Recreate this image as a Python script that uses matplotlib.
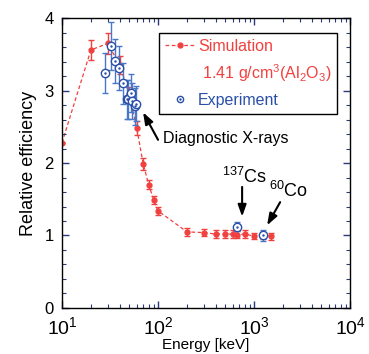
import numpy as np
import matplotlib
matplotlib.use('Agg')
import matplotlib.pyplot as plt
from matplotlib.lines import Line2D
from matplotlib.ticker import FixedLocator, FuncFormatter, MultipleLocator, LogLocator

plt.rcParams['font.family'] = ['Liberation Sans', 'DejaVu Sans']
plt.rcParams['mathtext.fontset'] = 'custom'
plt.rcParams['mathtext.rm'] = 'Liberation Sans'
plt.rcParams['mathtext.default'] = 'regular'

# simulation (1.41 g/cm3 Al2O3)
sim_e = [10, 20, 30, 40, 50, 60, 70, 80, 90, 100, 200, 300, 400, 500, 600, 662, 800, 1000, 1250, 1500]
sim_v = [2.28, 3.56, 3.65, 3.35, 2.95, 2.48, 1.99, 1.70, 1.49, 1.34, 1.05, 1.04, 1.02, 1.02, 1.02, 1.01, 1.02, 0.99, 1.00, 0.99]
sim_err = [0.0, 0.14, 0.14, 0.12, 0.1, 0.1, 0.08, 0.06, 0.06, 0.06, 0.06, 0.05, 0.05, 0.05, 0.05, 0.05, 0.05, 0.04, 0.05, 0.05]

# experiment
exp_e = [28, 32, 36, 39, 43, 47, 49, 52, 54, 57, 59, 662, 1250]
exp_v = [3.24, 3.62, 3.41, 3.31, 3.10, 2.88, 2.88, 2.97, 2.86, 2.78, 2.82, 1.12, 1.00]
exp_err = [0.28, 0.33, 0.3, 0.3, 0.28, 0.27, 0.27, 0.26, 0.25, 0.25, 0.24, 0.06, 0.07]

red = '#f0413f'
blue = '#2a4fa8'
tick_c = '#2b3a7a'

fig = plt.figure(figsize=(3.69, 3.54), dpi=100)
ax = fig.add_axes([0.168, 0.13, 0.781, 0.819])

ax.errorbar(sim_e, sim_v, yerr=sim_err, fmt='o', color=red, ms=3.5, ecolor=red,
            elinewidth=1.0, capsize=2.5, capthick=1.0, zorder=2)
ax.plot(sim_e, sim_v, '--', color=red, lw=0.9, dashes=(3, 2), zorder=1)

ax.errorbar(exp_e, exp_v, yerr=exp_err, fmt='none', ecolor='#4a78c8',
            elinewidth=1.0, capsize=2.5, capthick=1.0, zorder=3)
ax.plot(exp_e, exp_v, 'o', mfc='white', mec=blue, mew=1.0, ms=6, ls='none', zorder=4)
ax.plot(exp_e, exp_v, '.', color=blue, ms=1.5, ls='none', zorder=5)

ax.set_xscale('log')
ax.set_xlim(10, 1e4)
ax.set_ylim(0, 4)
ax.xaxis.set_major_locator(FixedLocator([10, 100, 1000, 10000]))
ax.xaxis.set_major_formatter(FuncFormatter(lambda v, p: '$10^{%d}$' % round(np.log10(v))))
ax.xaxis.set_minor_locator(LogLocator(base=10, subs=np.arange(2, 10)))
ax.yaxis.set_major_locator(MultipleLocator(1))
ax.yaxis.set_minor_locator(MultipleLocator(0.2))
ax.tick_params(which='both', direction='in', top=True, right=True, color=tick_c, labelsize=12)
ax.tick_params(which='major', length=5, width=1)
ax.tick_params(which='minor', length=3, width=0.8)
ax.tick_params(axis='x', which='major', labelsize=14, pad=6)
ax.tick_params(axis='y', which='major', pad=6)
ax.tick_params(axis='x', which='minor', labelbottom=False)
for s in ax.spines.values():
    s.set_color('black')
    s.set_linewidth(1)

ax.set_xlabel('Energy [keV]', fontsize=11, labelpad=0)
ax.set_ylabel('Relative efficiency', fontsize=13, labelpad=5)

h_sim = Line2D([], [], color=red, ls='--', dashes=(3, 2), lw=0.9, marker='o', ms=3.5)
h_blank = Line2D([], [], ls='none')
h_exp1 = Line2D([], [], ls='none', marker='o', mfc='white', mec=blue, mew=1.0, ms=4.5)
h_exp2 = Line2D([], [], ls='none', marker='.', color=blue, ms=1.5)
leg = ax.legend([h_sim, h_blank, (h_exp1, h_exp2)],
                ['Simulation', ' 1.41 g/cm$^3$(Al$_2$O$_3$)', 'Experiment'],
                loc='upper right', bbox_to_anchor=(0.955, 0.948), borderaxespad=0,
                fontsize=11.5, frameon=True, fancybox=False, edgecolor='black', framealpha=1,
                handlelength=1.9, handletextpad=0.2, borderpad=0.35, labelspacing=0.55,
                labelcolor=[red, red, blue])
leg.get_frame().set_linewidth(1)

arrow = dict(arrowstyle='-|>,head_length=0.7,head_width=0.25', color='black', lw=1.5,
             mutation_scale=10, shrinkA=0, shrinkB=0)

ax.text(113, 2.34, 'Diagnostic X-rays', fontsize=11.5, va='center', ha='left')
ax.annotate('', xy=(69.8, 2.70), xytext=(100, 2.32), arrowprops=arrow)

ax.text(787, 1.72, '$^{137}$Cs', fontsize=13, ha='center', va='baseline')
ax.annotate('', xy=(750, 1.26), xytext=(750, 1.67), arrowprops=arrow)

ax.text(2260, 1.53, '$^{60}$Co', fontsize=13, ha='center', va='baseline')
ax.annotate('', xy=(1365, 1.14), xytext=(1866, 1.46), arrowprops=arrow)

fig.savefig('out.png', dpi=100)
